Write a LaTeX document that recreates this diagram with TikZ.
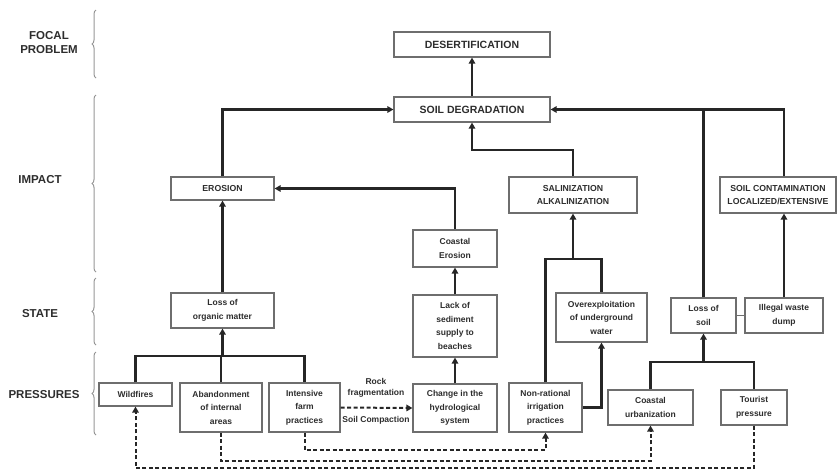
\documentclass[tikz,border=0pt]{standalone}
\usepackage{fontspec}
\setmainfont{Liberation Sans}
\usepackage{tikz}
\usetikzlibrary{arrows.meta,positioning,decorations.pathreplacing}
\usepackage{xcolor}
\definecolor{boxgray}{RGB}{110,110,110}
\definecolor{txtgray}{RGB}{45,45,45}
\definecolor{bracegray}{RGB}{150,150,150}
\tikzstyle{block} = [rectangle, draw=boxgray, line width=1.2pt, fill=white, inner sep=0pt, align=center, text=txtgray, font=\bfseries\fontsize{8.5}{13.5}\selectfont]
\tikzstyle{big} = [font=\bfseries\fontsize{10.5}{13}\selectfont]
\tikzstyle{caps} = [font=\bfseries\fontsize{8.7}{13}\selectfont]
\tikzstyle{level} = [align=center, text=txtgray, font=\bfseries\fontsize{11.5}{14}\selectfont]
\tikzstyle{line} = [line width=2.3pt, color=black!85]
\tikzstyle{arrow} = [line, -{Triangle[length=6pt,width=6.5pt]}]
\tikzstyle{dasharrow} = [line width=2pt, color=black!85, dash pattern=on 4pt off 2.5pt, -{Triangle[length=6pt,width=6.5pt]}]
\tikzstyle{brace} = [draw=bracegray, line width=1pt, decorate, decoration={brace, amplitude=4pt}]

\begin{document}
\begin{tikzpicture}[x=1pt, y=-1pt]
    \useasboundingbox (0,0) rectangle (838,472);

    % Levels and braces
    \node[level] (focal) at (49,43) {FOCAL\\PROBLEM};
    \node[level] (impact) at (40,180) {IMPACT};
    \node[level] (state) at (40,314) {STATE};
    \node[level] (pressures) at (44,395) {PRESSURES};
    \draw[brace] (96,78) -- (96,10);
    \draw[brace] (96,272) -- (96,95);
    \draw[brace] (96,345) -- (96,278);
    \draw[brace] (96,435) -- (96,352);

    % Focal problem and impact
    \node[block, big, minimum width=156, minimum height=25] (desert) at (472,44.5) {DESERTIFICATION};
    \node[block, big, minimum width=156, minimum height=25] (soildeg) at (472,109.5) {SOIL DEGRADATION};
    \node[block, caps, minimum width=103, minimum height=23] (erosion) at (222.5,188.5) {EROSION};
    \node[block, caps, minimum width=128, minimum height=36] (salin) at (573,195) {SALINIZATION\\ALKALINIZATION};
    \node[block, caps, minimum width=116, minimum height=36] (soilcont) at (778,195) {SOIL CONTAMINATION\\LOCALIZED/EXTENSIVE};
    \node[block, minimum width=84, minimum height=37] (coasteros) at (455,248.5) {Coastal\\Erosion};

    % State
    \node[block, minimum width=103, minimum height=35] (lossorg) at (222.5,310.5) {Loss of\\organic matter};
    \node[block, minimum width=84, minimum height=62] (lacksed) at (455,326) {Lack of\\sediment\\supply to\\beaches};
    \node[block, minimum width=91, minimum height=49] (overexp) at (601.5,317.5) {Overexploitation\\of underground\\water};
    \node[block, minimum width=65, minimum height=35] (losssoil) at (703.5,315.5) {Loss of\\soil};
    \node[block, minimum width=78, minimum height=35] (illegal) at (784,315.5) {Illegal waste\\dump};

    % Pressures
    \node[block, minimum width=73, minimum height=23] (wildfires) at (135.5,394.5) {Wildfires};
    \node[block, minimum width=82, minimum height=49] (abandon) at (221,407.5) {Abandonment\\of internal\\areas};
    \node[block, minimum width=71, minimum height=49] (intensive) at (304.5,407.5) {Intensive\\farm\\practices};
    \node[block, minimum width=84, minimum height=48] (change) at (455,408) {Change in the\\hydrological\\system};
    \node[block, minimum width=73, minimum height=49] (nonrat) at (545.5,407.5) {Non-rational\\irrigation\\practices};
    \node[block, minimum width=85, minimum height=35] (coasturb) at (650.5,407.5) {Coastal\\urbanization};
    \node[block, minimum width=66, minimum height=35] (tourist) at (754,407.5) {Tourist\\pressure};

    % Solid links
    \draw[arrow] (soildeg) -- (desert);
    \draw[arrow] (erosion.north) |- (soildeg.west);
    \draw[arrow] (coasteros.north) |- (erosion.east);
    \coordinate (jsal) at (573,150);
    \draw[arrow] (salin.north) -- (jsal) -| (soildeg.south);
    \draw[arrow] (illegal.north |- soilcont.north) |- (soildeg.east);
    \draw[line] (losssoil.north) -- (losssoil.north |- soildeg.east);
    \draw[arrow] (illegal.north) -- (illegal.north |- soilcont.south);
    \draw[draw=boxgray, line width=1pt] (losssoil) -- (illegal);
    \draw[arrow] (lacksed) -- (coasteros);
    \draw[arrow] (change) -- (lacksed);
    \draw[arrow] (lossorg) -- (erosion);

    % Trees
    \coordinate (jorg) at (222.5,356);
    \draw[line] (wildfires.north) |- (jorg) -| (intensive.north);
    \draw[line] (abandon.north) -- (abandon.north |- jorg);
    \draw[arrow] (jorg) -- (lossorg.south);
    \coordinate (jwater) at (573,259);
    \draw[line] (nonrat.north) |- (jwater) -| (overexp.north);
    \draw[arrow] (jwater) -- (salin.south);
    \draw[arrow] (nonrat.east) -| (overexp.south);
    \coordinate (jsoil) at (703.5,362);
    \draw[line] (coasturb.north) |- (jsoil) -| (tourist.north);
    \draw[arrow] (jsoil) -- (losssoil.south);

    % Dashed links
    \draw[dasharrow] (intensive.east) -- (change.west);
    \node[text=txtgray, align=center, font=\bfseries\fontsize{8.5}{11}\selectfont] (rockfrag) at (376,388) {Rock\\fragmentation};
    \node[text=txtgray, font=\bfseries\fontsize{8.5}{11}\selectfont] (soilcomp) at (376,420) {Soil Compaction};
    \coordinate (d1) at (304.5,450);
    \draw[dasharrow] (intensive.south) -- (d1) -| (nonrat.south);
    \coordinate (d2) at (221,461);
    \draw[dasharrow] (abandon.south) -- (d2) -| (coasturb.south);
    \coordinate (d3) at (754,468);
    \draw[dasharrow] (tourist.south) -- (d3) -| (wildfires.south);
\end{tikzpicture}
\end{document}
